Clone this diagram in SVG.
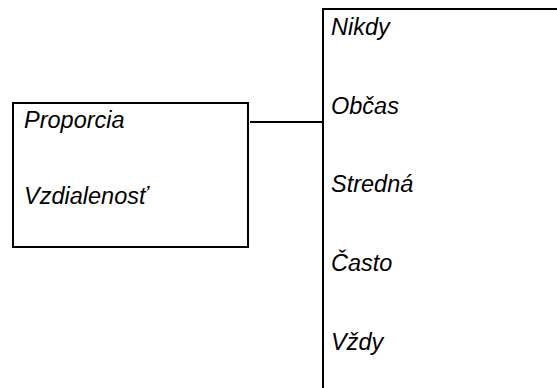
<svg xmlns="http://www.w3.org/2000/svg" width="557" height="388" viewBox="0 0 557 388">
<style>
text{font-family:"Liberation Sans",Arial,sans-serif;font-style:italic;font-size:23.5px;fill:#000}
.ln{stroke:#000;stroke-width:2;fill:none}
</style>
<rect width="557" height="388" fill="#fff"/>
<g id="box">
<rect class="ln" x="13" y="103" width="235" height="144"/>
<text x="24" y="128">Proporcia</text>
<text x="24" y="204">Vzdialenosť</text>
</g>
<g id="connectors">
<line class="ln" x1="250" y1="122" x2="323" y2="122"/>
<polyline class="ln" points="557,9 323,9 323,388"/>
</g>
<g id="scale">
<text x="331" y="35">Nikdy</text>
<text x="331" y="114">Občas</text>
<text x="331" y="192">Stredná</text>
<text x="331" y="271">Často</text>
<text x="331" y="350">Vždy</text>
</g>
</svg>
